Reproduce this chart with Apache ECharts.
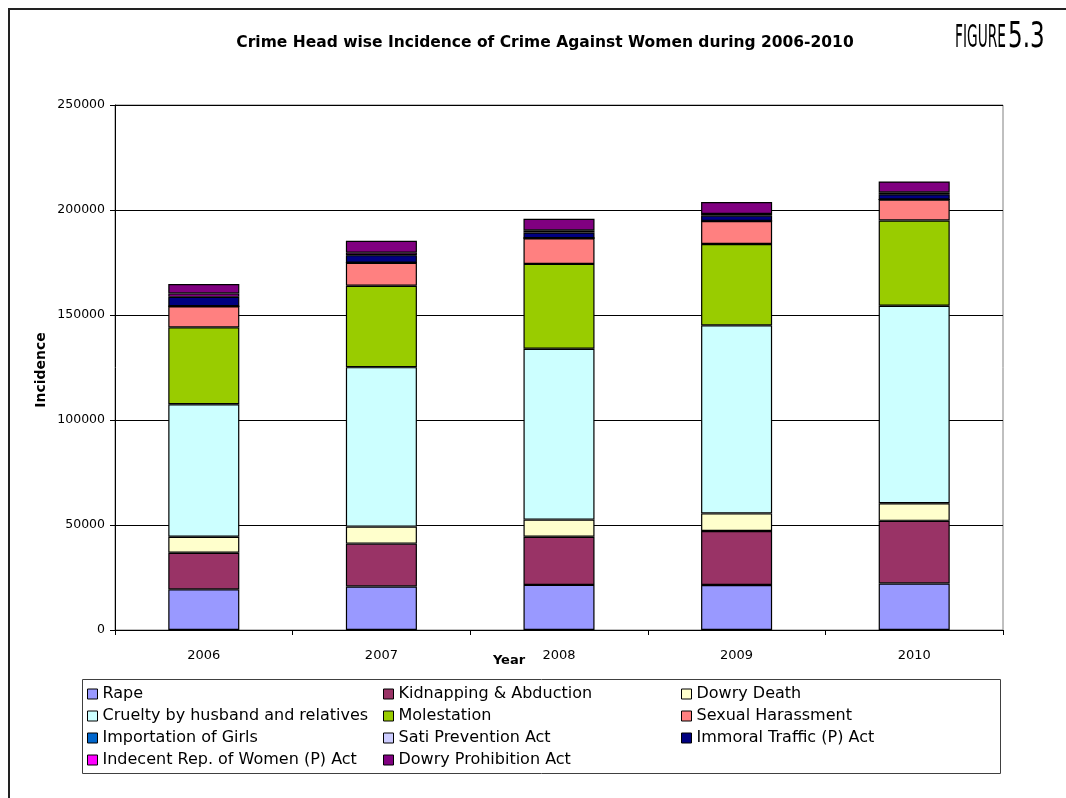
<!DOCTYPE html>
<html>
<head>
<meta charset="utf-8">
<script src="https://cdn.jsdelivr.net/npm/echarts@6/dist/echarts.min.js"></script>
<style>
html,body{margin:0;padding:0;background:#fff;}
#chart{width:1066px;height:798px;}
</style>
</head>
<body>
<div id="chart"></div>
<script>
const years = ['2006', '2007', '2008', '2009', '2010'];
const yTicks = [0, 50000, 100000, 150000, 200000, 250000];

const rape = [19348, 20737, 21467, 21397, 22172];
const kidnapping = [17414, 20416, 22939, 25741, 29795];
const dowryDeath = [7618, 8093, 8172, 8383, 8391];
const cruelty = [63128, 75930, 81344, 89546, 94041];
const molestation = [36617, 38734, 40413, 38711, 40613];
const sexualHarassment = [9966, 10950, 12214, 11009, 9961];
const importation = [67, 61, 67, 48, 36];
const sati = [0, 0, 1, 0, 0];
const immoralTraffic = [4541, 3568, 2659, 2474, 2499];
const indecentRep = [1562, 1200, 1025, 845, 895];
const dowryProhibition = [4504, 5623, 5555, 5650, 5182];

const seriesNames = ['Rape', 'Kidnapping & Abduction', 'Dowry Death', 'Cruelty by husband and relatives',
  'Molestation', 'Sexual Harassment', 'Importation of Girls', 'Sati Prevention Act',
  'Immoral Traffic (P) Act', 'Indecent Rep. of Women (P) Act', 'Dowry Prohibition Act'];
const seriesData = [rape, kidnapping, dowryDeath, cruelty, molestation, sexualHarassment,
  importation, sati, immoralTraffic, indecentRep, dowryProhibition];
const colors = ['#9999FF', '#993366', '#FFFFCC', '#CCFFFF', '#99CC00', '#FF8080',
  '#0066CC', '#CCCCFF', '#000080', '#FF00FF', '#800080'];

const FONT = 'DejaVu Sans';
const chart = echarts.init(document.getElementById('chart'));

const legendCols = [
  [0, 3, 6, 9],
  [1, 4, 7, 10],
  [2, 5, 8]
];
const colX = [87, 383, 681];
const legends = legendCols.map((col, i) => ({
  orient: 'vertical',
  left: colX[i],
  top: 686,
  padding: 0,
  itemWidth: 10,
  itemHeight: 10,
  itemGap: 6,
  icon: 'rect',
  data: col.map(k => seriesNames[k]),
  itemStyle: { borderColor: '#000', borderWidth: 1 },
  textStyle: { fontFamily: FONT, fontSize: 16, color: '#000', lineHeight: 16 },
  selectedMode: false
}));

const option = {
  animation: false,
  color: colors,
  grid: { left: 115, right: 63, top: 105, bottom: 168, show: true, borderColor: '#808080', borderWidth: 1, backgroundColor: 'transparent' },
  legend: legends,
  xAxis: {
    type: 'category',
    data: years,
    boundaryGap: true,
    axisLine: { lineStyle: { color: '#000', width: 1 } },
    axisTick: { show: true, length: 5, inside: false, lineStyle: { color: '#000' } },
    axisLabel: { fontFamily: FONT, fontSize: 13, color: '#000', margin: 19 }
  },
  yAxis: {
    type: 'value',
    min: yTicks[0],
    max: yTicks[yTicks.length - 1],
    interval: yTicks[1] - yTicks[0],
    axisLine: { show: true, lineStyle: { color: '#000', width: 1 } },
    axisTick: { show: true, length: 5, lineStyle: { color: '#000' } },
    splitLine: { show: true, lineStyle: { color: '#000', width: 1 } },
    axisLabel: { fontFamily: FONT, fontSize: 12.5, color: '#000', margin: 10, formatter: v => String(v) }
  },
  series: seriesNames.map((name, i) => ({
    name: name,
    type: 'bar',
    stack: 'total',
    barWidth: '40%',
    data: seriesData[i],
    itemStyle: { color: colors[i], borderColor: '#000', borderWidth: 1.2 },
    emphasis: { disabled: true }
  })),
  graphic: [
    { type: 'rect', shape: { x: 9, y: 9, width: 1200, height: 1000 }, style: { fill: 'none', stroke: '#222', lineWidth: 2 }, z: -1 },
    { type: 'rect', shape: { x: 82.5, y: 679.5, width: 918, height: 94 }, style: { fill: 'none', stroke: '#404040', lineWidth: 1 }, z: -1 },
    { type: 'text', x: 545, y: 43, style: { text: 'Crime Head wise Incidence of Crime Against Women during 2006-2010', font: 'bold 15.5px "DejaVu Sans"', fill: '#000', textAlign: 'center', textVerticalAlign: 'middle' } },
    { type: 'text', x: 955, y: 55, scaleX: 0.43, style: { text: 'FIGURE', font: '32px "DejaVu Sans"', fill: '#000', textAlign: 'left', textVerticalAlign: 'bottom' } },
    { type: 'text', x: 1008, y: 56, scaleX: 0.64, style: { text: '5.3', font: '36px "DejaVu Sans"', fill: '#000', textAlign: 'left', textVerticalAlign: 'bottom' } },
    { type: 'text', x: 41, y: 370, rotation: Math.PI / 2, style: { text: 'Incidence', font: 'bold 14px "DejaVu Sans"', fill: '#000', textAlign: 'center', textVerticalAlign: 'middle' } },
    { type: 'text', x: 509, y: 661, style: { text: 'Year', font: 'bold 13px "DejaVu Sans"', fill: '#000', textAlign: 'center', textVerticalAlign: 'middle' } }
  ]
};
chart.setOption(option);
</script>
</body>
</html>
